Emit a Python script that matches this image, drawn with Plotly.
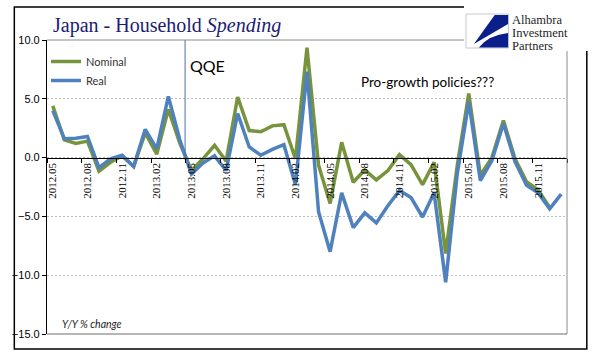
import plotly.graph_objects as go

# ---------------- data ----------------
months = ["2012.05", "2012.06", "2012.07", "2012.08", "2012.09", "2012.10", "2012.11", "2012.12",
          "2013.01", "2013.02", "2013.03", "2013.04", "2013.05", "2013.06", "2013.07", "2013.08",
          "2013.09", "2013.10", "2013.11", "2013.12", "2014.01", "2014.02", "2014.03", "2014.04",
          "2014.05", "2014.06", "2014.07", "2014.08", "2014.09", "2014.10", "2014.11", "2014.12",
          "2015.01", "2015.02", "2015.03", "2015.04", "2015.05", "2015.06", "2015.07", "2015.08",
          "2015.09", "2015.10", "2015.11", "2015.12", "2016.01"]

nominal = [4.4, 1.5, 1.2, 1.4, -1.15, -0.4, 0.15, -0.75,
           2.1, 0.3, 4.1, 1.2, -1.1, -0.1, 1.05, -0.3,
           5.15, 2.3, 2.2, 2.7, 2.8, -0.1, 9.35, -0.65,
           -3.9, 1.3, -2.1, -1.05, -1.9, -1.1, 0.25, -0.6,
           -2.3, -0.4, -8.15, -0.7, 5.45, -1.5, 0.0, 3.15,
           -0.1, -2.05, -2.75, -4.25, None]

real = [4.0, 1.6, 1.65, 1.8, -0.85, -0.1, 0.2, -0.75,
        2.4, 0.75, 5.2, 1.5, -1.4, -0.45, 0.15, -1.1,
        3.75, 0.9, 0.2, 0.7, 1.1, -2.3, 7.3, -4.6,
        -8.0, -3.0, -5.95, -4.7, -5.55, -4.1, -2.8, -3.4,
        -5.05, -3.0, -10.6, -1.4, 4.75, -1.95, -0.25, 2.9,
        -0.35, -2.35, -3.0, -4.35, -3.1]

y_ticks = [-15, -10, -5, 0, 5, 10]
qqe_pos = 11.45  # category position of the QQE marker

# ---------------- layout helpers ----------------
W, H = 596, 361
ML, MR, MT, MB = 42, 29, 40, 27
PW, PH = W - ML - MR, H - MT - MB


def px(x):
    return (x - ML) / PW


def py(y):
    return (H - MB - y) / PH


GREEN = "#77933C"
BLUE = "#4F81BD"

fig = go.Figure()
fig.add_trace(go.Scatter(x=months, y=nominal, name="Nominal", mode="lines",
                         line=dict(color=GREEN, width=3.5)))
fig.add_trace(go.Scatter(x=months, y=real, name="Real", mode="lines",
                         line=dict(color=BLUE, width=3.5)))

shapes = []
# QQE marker line
shapes.append(dict(type="line", xref="x", yref="y", x0=qqe_pos, x1=qqe_pos, y0=0, y1=10,
                   line=dict(color="#4a6fa5", width=1)))
# plot border (top, right, bottom)
shapes.append(dict(type="line", xref="paper", yref="paper", x0=0, x1=1, y0=1, y1=1,
                   line=dict(color="#8c8c8c", width=1)))
shapes.append(dict(type="line", xref="paper", yref="paper", x0=1, x1=1, y0=0, y1=1,
                   line=dict(color="#8c8c8c", width=1)))
shapes.append(dict(type="line", xref="paper", yref="paper", x0=0, x1=1, y0=0, y1=0,
                   line=dict(color="#6e6e6e", width=1)))
# outer frame
shapes.append(dict(type="rect", xref="paper", yref="paper", x0=px(9), x1=px(587), y0=py(349), y1=py(7),
                   line=dict(color="#000000", width=1.5)))
# logo white background
shapes.append(dict(type="rect", xref="paper", yref="paper", x0=px(463), x1=px(597), y0=py(51), y1=py(-1),
                   line=dict(width=0), fillcolor="white"))
# logo box
shapes.append(dict(type="rect", xref="paper", yref="paper", x0=px(465), x1=px(508), y0=py(48), y1=py(14),
                   line=dict(color="#c8c8c8", width=1), fillcolor="white"))


def path(pts, close=True):
    s = "M {} {}".format(px(pts[0][0]), py(pts[0][1]))
    for p in pts[1:]:
        s += " L {} {}".format(px(p[0]), py(p[1]))
    return s + (" Z" if close else "")


NAVY = "#0b1f8a"
shapes.append(dict(type="path", xref="paper", yref="paper",
                   path=path([(494, 15), (507.5, 15), (507.5, 24), (473, 44)]),
                   fillcolor=NAVY, line=dict(width=0)))
shapes.append(dict(type="path", xref="paper", yref="paper",
                   path="M {} {} Q {} {} {} {} L {} {} L {} {} Z".format(
                       px(478), py(47.5), px(488), py(35), px(507.5), py(33),
                       px(507.5), py(47.5), px(478), py(47.5)),
                   fillcolor=NAVY, line=dict(width=0)))

annotations = [
    dict(text="Japan - Household <i>Spending</i>", x=px(46), y=py(26), xref="paper", yref="paper",
         xanchor="left", yanchor="middle", showarrow=False,
         font=dict(family="Liberation Serif", size=20, color="#1c1c72")),
    dict(text="QQE", x=px(184), y=py(65), xref="paper", yref="paper",
         xanchor="left", yanchor="middle", showarrow=False,
         font=dict(family="Lato", size=16, color="#000000")),
    dict(text="Pro-growth policies???", x=px(357), y=py(82), xref="paper", yref="paper",
         xanchor="left", yanchor="middle", showarrow=False,
         font=dict(family="Lato", size=13.5, color="#000000")),
    dict(text="<i>Y/Y % change</i>", x=px(55), y=py(324), xref="paper", yref="paper",
         xanchor="left", yanchor="middle", showarrow=False,
         font=dict(family="Lato", size=10.5, color="#222222")),
]
for txt, yy in [("Alhambra", 19.5), ("Investment", 33), ("Partners", 46.5)]:
    annotations.append(dict(text=txt, x=px(510), y=py(yy), xref="paper", yref="paper",
                            xanchor="left", yanchor="middle", showarrow=False, borderpad=0,
                            font=dict(family="Liberation Serif", size=12.5, color="#1e1e1e")))

zero_frac = (0 - y_ticks[0]) / (y_ticks[-1] - y_ticks[0])

fig.update_layout(
    width=W, height=H,
    margin=dict(l=ML, r=MR, t=MT, b=MB, pad=0),
    paper_bgcolor="white", plot_bgcolor="white",
    showlegend=True,
    legend=dict(x=px(41), y=py(47), xanchor="left", yanchor="top",
                bgcolor="rgba(0,0,0,0)", borderwidth=0, itemwidth=30,
                font=dict(family="Lato", size=11, color="#333333"), tracegroupgap=0),
    xaxis=dict(type="category", range=[-0.5, len(months) - 0.5],
               tickmode="linear", tick0=0, dtick=3, tickson="boundaries",
               ticks="outside", ticklen=4, tickcolor="#000000", tickwidth=1,
               tickangle=-90, showgrid=False, zeroline=False,
               showline=True, linecolor="#000000", linewidth=1,
               anchor="free", position=zero_frac,
               tickfont=dict(family="Liberation Serif", size=11, color="#000000")),
    yaxis=dict(range=[y_ticks[0], y_ticks[-1]], tickmode="array", tickvals=y_ticks,
               tickformat=".1f", ticks="outside", ticklen=4, tickcolor="#000000",
               showline=True, linecolor="#000000", linewidth=1.2,
               showgrid=True, gridcolor="#bdbdbd", griddash="2px,2px", gridwidth=1,
               zeroline=False, domain=[0, 1],
               tickfont=dict(family="Liberation Sans Narrow, Liberation Sans", size=11, color="#000000")),
    shapes=shapes,
    annotations=annotations,
)

fig.write_html("out.html", config={"displayModeBar": False},
               post_script="document.body.style.margin='0';document.body.style.padding='0';")
